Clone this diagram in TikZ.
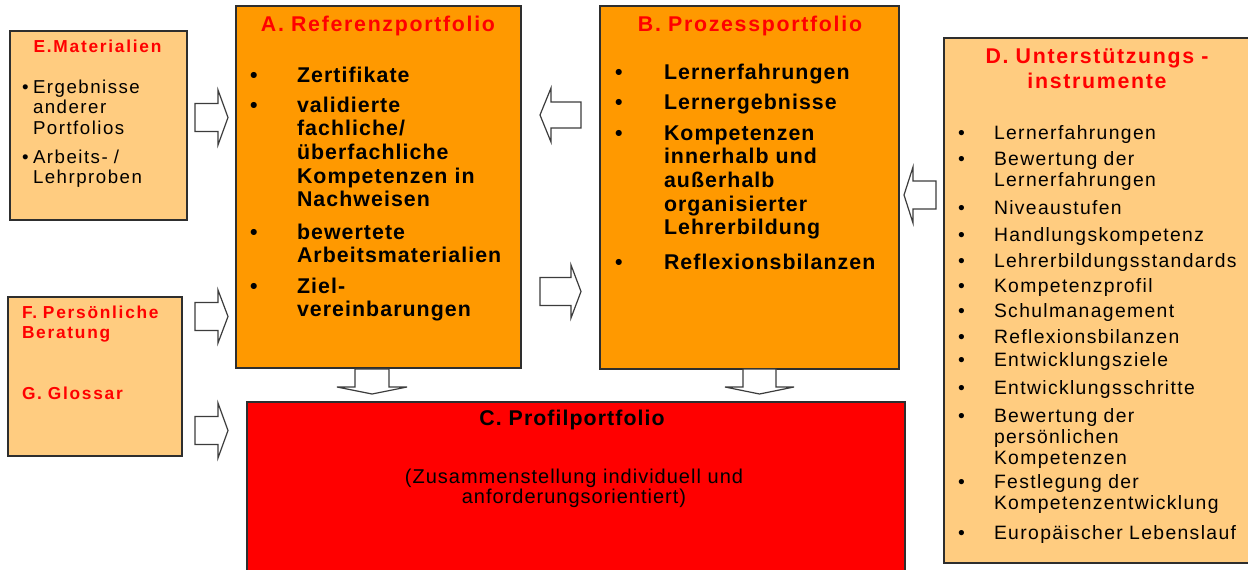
\documentclass[tikz,border=0pt]{standalone}
\usepackage{fontspec}
\setmainfont{Liberation Sans}
\newfontfamily\lsA{Liberation Sans}[LetterSpace=5]
\newfontfamily\lsB{Liberation Sans}[LetterSpace=8]
\newfontfamily\lsC{Liberation Sans}[LetterSpace=7]
\newfontfamily\lsD{Liberation Sans}[LetterSpace=10]
\newcommand{\fsz}[2]{\fontsize{#1}{#2}\selectfont}
\definecolor{orgA}{HTML}{FF9900}
\definecolor{lightO}{HTML}{FFCC80}
\definecolor{redC}{HTML}{FF0000}
\definecolor{titleRed}{HTML}{FF0000}
\definecolor{edge}{HTML}{2E2E2E}
\definecolor{arrEdge}{HTML}{3C3C3C}
% block arrow: center, angle, length, shaft half, head half, head length
\newcommand{\blockarr}[6]{%
  \draw[blockarrow, shift={(#1)}, rotate=#2]
    (-#3/2,-#4) -- (#3/2-#6,-#4) -- (#3/2-#6,-#5) -- (#3/2,0)
    -- (#3/2-#6,#5) -- (#3/2-#6,#4) -- (-#3/2,#4) -- cycle;}
\begin{document}
\begin{tikzpicture}[x=0.75pt,y=-0.75pt,
  box/.style={draw=edge, line width=0.8pt, anchor=north west, inner sep=0pt, outer sep=0pt},
  blockarrow/.style={draw=arrEdge, fill=white, line width=0.9pt, line join=miter},
  bul/.style={anchor=base west, inner sep=0pt, outer sep=0pt},
  itm/.style={anchor=base west, inner sep=0pt, outer sep=0pt, text width=260pt, align=left},
  ttl/.style={anchor=base, inner sep=0pt, outer sep=0pt, text=titleRed, text width=260pt, align=center},
  fAB/.style={font=\lsA\bfseries\fsz{16}{17.8}},
  fD/.style={font=\lsC\fsz{14.5}{15.75}},
  fE/.style={font=\lsB\fsz{14}{15.4}}
]
\fill[white] (0,0) rectangle (1248,569);
\useasboundingbox (0,0) rectangle (1248,569);

% boxes
\node (E)  [box, fill=lightO, minimum width=177*0.75pt, minimum height=189*0.75pt] at (10,31) {};
\node (FG) [box, fill=lightO, minimum width=174*0.75pt, minimum height=159*0.75pt] at (8,297) {};
\node (A)  [box, fill=orgA, minimum width=285*0.75pt, minimum height=362*0.75pt] at (236,6) {};
\node (B)  [box, fill=orgA, minimum width=299*0.75pt, minimum height=363*0.75pt] at (600,6) {};
\node (C)  [box, fill=redC, minimum width=658*0.75pt, minimum height=175*0.75pt] at (247,402) {};
\node (D)  [box, fill=lightO, minimum width=310*0.75pt, minimum height=525*0.75pt] at (944,38) {};

% block arrows
\coordinate (eaC) at (211.5,117.5);
\coordinate (faC) at (211.5,316.5);
\coordinate (fcC) at (211.5,430.5);
\coordinate (baC) at (560.5,115);
\coordinate (abC) at (560.5,291.5);
\coordinate (dbC) at (920,195);
\coordinate (acC) at (372,381.5);
\coordinate (bcC) at (759.5,381.5);
\blockarr{eaC}{0}{33}{14}{27.5}{10}
\blockarr{faC}{0}{33}{14}{26.5}{10}
\blockarr{fcC}{0}{33}{14}{27.5}{10}
\blockarr{baC}{180}{41}{13}{27}{11}
\blockarr{abC}{0}{41}{14}{26.5}{10}
\blockarr{dbC}{180}{32}{14}{28}{9}
\blockarr{acC}{-90}{25}{17}{35}{7}
\blockarr{bcC}{-90}{25}{16.5}{34.5}{7}

% A
\node (tA) [ttl, font=\lsB\bfseries\fsz{16}{18}] at (378,31) {A. Referenzportfolio};
\foreach \y/\t [count=\i] in {82/Zertifikate, 112/{validierte\\fachliche/\\überfachliche\\Kompetenzen in\\Nachweisen}, 239/{bewertete\\Arbeitsmaterialien}, 293/{Ziel-\\vereinbarungen}} {
  \node (ab\i) [bul, fAB] at (250,\y) {\textbullet};
  \node (at\i) [itm, fAB] at (297,\y) {\t};
}

% B
\node (tB) [ttl, font=\lsB\bfseries\fsz{16}{18}] at (750,31) {B. Prozessportfolio};
\foreach \y/\t [count=\i] in {79/Lernerfahrungen, 109/Lernergebnisse, 140/{Kompetenzen\\innerhalb und\\außerhalb\\organisierter\\Lehrerbildung}, 269/Reflexionsbilanzen} {
  \node (bb\i) [bul, fAB] at (615,\y) {\textbullet};
  \node (bt\i) [itm, fAB] at (664,\y) {\t};
}

% C
\node (tC) [anchor=base, inner sep=0pt, font=\lsA\bfseries\fsz{16}{18}] at (572,425) {C. Profilportfolio};
\node (cC) [anchor=base, inner sep=0pt, text width=400pt, align=center, font=\lsA\fsz{15}{15}] at (574,483) {(Zusammenstellung individuell und\\anforderungsorientiert)};

% D
\node (tD) [ttl, font=\lsB\bfseries\fsz{16}{18.75}] at (1097,63) {D. Unterstützungs -\\instrumente};
\foreach \y/\t [count=\i] in {139/Lernerfahrungen, 165/{Bewertung der\\Lernerfahrungen}, 214/Niveaustufen, 241/Handlungskompetenz, 267/Lehrerbildungsstandards, 292/Kompetenzprofil, 317/Schulmanagement, 343/Reflexionsbilanzen, 366/Entwicklungsziele, 394/Entwicklungsschritte, 422/{Bewertung der\\persönlichen\\Kompetenzen}, 488/{Festlegung der\\Kompetenzentwicklung}, 539/Europäischer Lebenslauf} {
  \node (db\i) [bul, fD] at (958,\y) {\textbullet};
  \node (dt\i) [itm, fD] at (994,\y) {\t};
}

% E
\node (tE) [ttl, font=\lsD\bfseries\fsz{13}{15}] at (97.5,52) {E.Materialien};
\foreach \y/\t [count=\i] in {93/{Ergebnisse\\anderer\\Portfolios}, 163/{Arbeits- /\\Lehrproben}} {
  \node (eb\i) [bul, fE] at (22,\y) {\textbullet};
  \node (et\i) [itm, fE] at (33,\y) {\t};
}

% F / G
\node (tF) [itm, text=titleRed, font=\lsD\bfseries\fsz{13}{15}] at (22,318) {F. Persönliche\\Beratung};
\node (tG) [itm, text=titleRed, font=\lsD\bfseries\fsz{13}{15}] at (22,399) {G. Glossar};
\end{tikzpicture}
\end{document}
